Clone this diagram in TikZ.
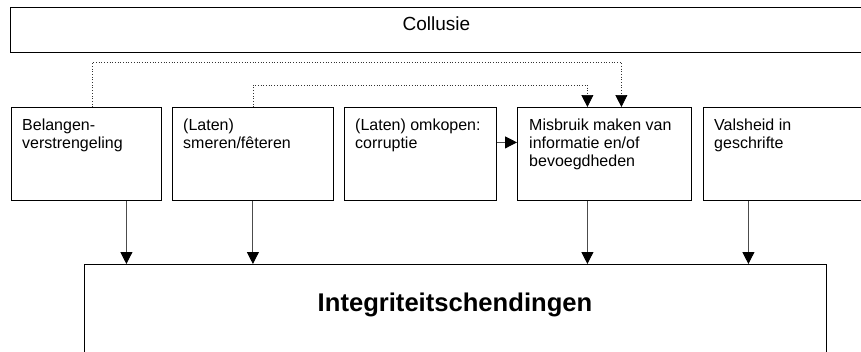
\documentclass[tikz,border=0pt]{standalone}
\usepackage{fontspec}
\setmainfont{Liberation Sans}
\usetikzlibrary{arrows.meta}
\begin{document}
\begin{tikzpicture}[x=1pt,y=-1pt,
  box/.style={draw=black, line width=0.8pt, inner sep=0pt, anchor=north west},
  txt/.style={anchor=north west, inner sep=0pt, align=left, font=\fontsize{16}{18}\selectfont},
  conn/.style={draw=black!70, line width=1pt, -{Triangle[width=12pt,length=12pt,color=black]}},
  dotconn/.style={draw=black!80, line width=0.7pt, dotted, -{Triangle[width=12pt,length=12pt,color=black]}}]
\useasboundingbox (0,0) rectangle (861,351);
% top box
\node[box, minimum width=853pt, minimum height=45pt] (coll) at (10,7) {};
\node[font=\fontsize{19}{22}\selectfont, inner sep=0pt] (colltxt) at (436.5,24) {Collusie};
% row of boxes
\node[box, minimum width=150pt, minimum height=93pt] (bel) at (11,107) {};
\node[txt] (beltxt) at (22,118.5) {Belangen-\\verstrengeling};
\node[box, minimum width=161pt, minimum height=93pt] (sme) at (172,107) {};
\node[txt] (smetxt) at (183,118.5) {(Laten)\\smeren/fêteren};
\node[box, minimum width=152pt, minimum height=93pt] (omk) at (344,107) {};
\node[txt] (omktxt) at (355,118.5) {(Laten) omkopen:\\corruptie};
\node[box, minimum width=174pt, minimum height=93pt] (mis) at (517,107) {};
\node[txt] (mistxt) at (529,118.5) {Misbruik maken van\\informatie en/of\\bevoegdheden};
\node[box, minimum width=162pt, minimum height=93pt] (val) at (703,107) {};
\node[txt] (valtxt) at (714,118.5) {Valsheid in\\geschrifte};
% bottom box
\node[box, minimum width=742pt, minimum height=110pt] (integ) at (84,264) {};
\node[font=\bfseries\fontsize{25.6}{30}\selectfont, inner sep=0pt, anchor=base] (integtxt) at (455,311) {Integriteitschendingen};
% dotted connectors
\draw[dotconn] ([xshift=6pt]bel.north) -- ++(0,-45) -| ([xshift=17pt]mis.north);
\draw[dotconn] (sme.north) -- ++(0,-22) -| ([xshift=-17pt]mis.north);
% horizontal arrow
\draw[conn] ([yshift=11.5pt]omk.east) -- ([yshift=11.5pt]omk.east -| mis.west);
% down arrows
\draw[conn] ([xshift=40pt]bel.south) -- ([xshift=40pt]bel.south |- integ.north);
\draw[conn] (sme.south) -- (sme.south |- integ.north);
\draw[conn] ([xshift=-17pt]mis.south) -- ([xshift=-17pt]mis.south |- integ.north);
\draw[conn] ([xshift=-36pt]val.south) -- ([xshift=-36pt]val.south |- integ.north);
\end{tikzpicture}
\end{document}
